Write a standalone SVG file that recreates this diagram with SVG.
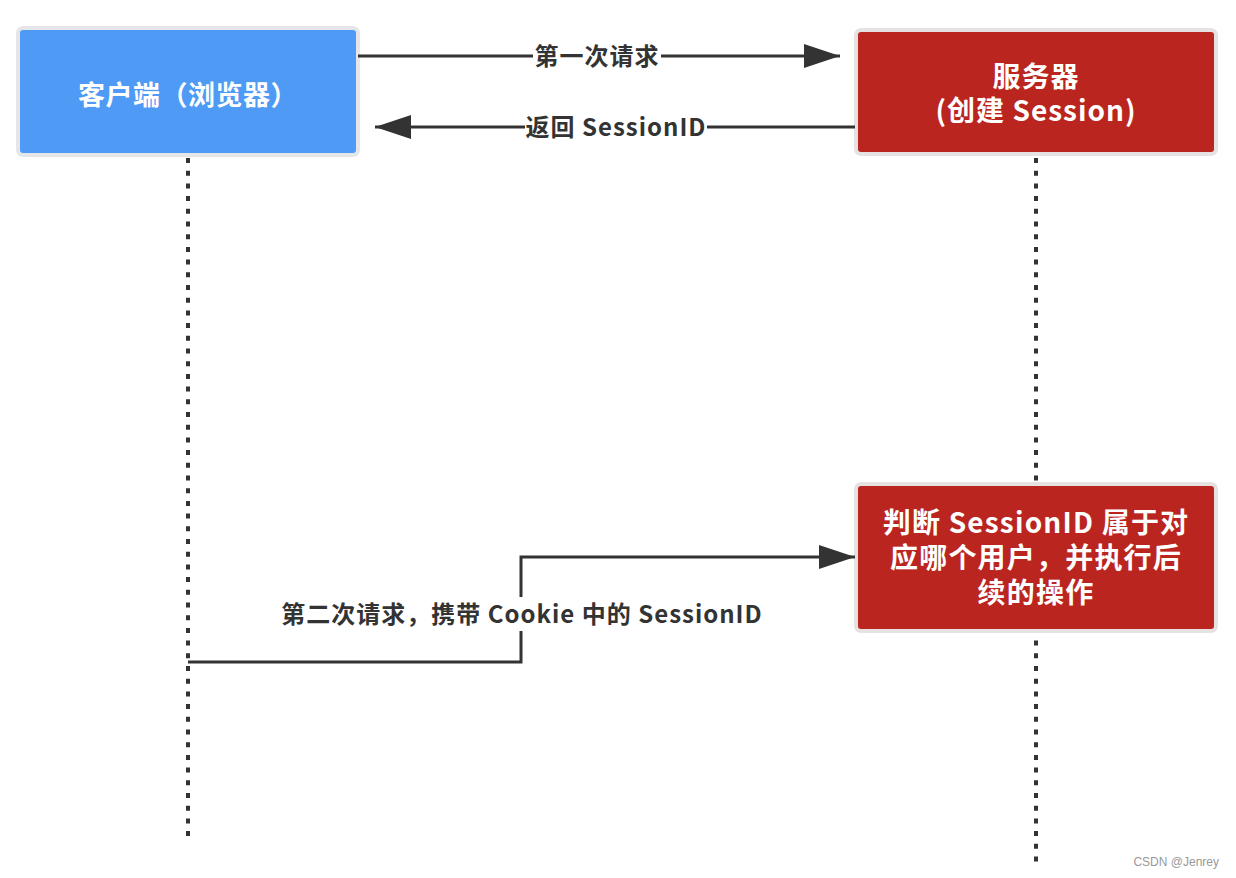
<svg xmlns="http://www.w3.org/2000/svg" width="1236" height="878" viewBox="0 0 1236 878">
<defs>
<style>
.box-blue{fill:#4e9af5;stroke:#e4e6ea;stroke-width:4}
.box-red{fill:#bb2520;stroke:#e6e2e2;stroke-width:4}
.life{stroke:#333;stroke-width:4;stroke-dasharray:5 7.7;fill:none}
.conn{stroke:#333;stroke-width:3;fill:none}
.lbl{font-family:"Noto Sans CJK SC","Noto Sans",sans-serif;font-weight:bold;font-size:24px;letter-spacing:1px;fill:#333;text-anchor:middle}
.wt{font-family:"Noto Sans CJK SC","Noto Sans",sans-serif;font-weight:bold;fill:#fff;text-anchor:middle}
.bg{fill:#fff}
</style>
<marker id="ah" markerWidth="12" markerHeight="8" refX="12" refY="4" orient="auto" markerUnits="strokeWidth">
<path d="M0,0 L12,4 L0,8 Z" fill="#333"/>
</marker>
</defs>
<rect width="1236" height="878" fill="#fff"/>
<g id="lifelines">
<line class="life" x1="188" y1="158" x2="188" y2="842"/>
<line class="life" x1="1036" y1="158" x2="1036" y2="862"/>
</g>
<g id="client">
<rect class="box-blue" x="18" y="28" width="340" height="127" rx="5"/>
<text class="wt" x="188" y="105" font-size="27" letter-spacing="0.5">客户端（浏览器）</text>
</g>
<g id="server">
<rect class="box-red" x="856" y="30" width="360" height="124" rx="5"/>
<text class="wt" x="1036" y="87" font-size="28" letter-spacing="1">服务器</text>
<text class="wt" x="1036" y="121" font-size="28" letter-spacing="1">(创建 Session)</text>
</g>
<g id="decide">
<rect class="box-red" x="856" y="484" width="360" height="147" rx="5"/>
<text class="wt" x="1036" y="533" font-size="28" letter-spacing="1.2">判断 SessionID 属于对</text>
<text class="wt" x="1036" y="568" font-size="28" letter-spacing="1.2">应哪个用户，并执行后</text>
<text class="wt" x="1036" y="603" font-size="28" letter-spacing="1.2">续的操作</text>
</g>
<g id="connectors">
<line class="conn" x1="358" y1="56" x2="840" y2="56" marker-end="url(#ah)"/>
<rect class="bg" x="533" y="42" width="128" height="30"/>
<text class="lbl" x="597" y="65">第一次请求</text>
<line class="conn" x1="855" y1="127" x2="375" y2="127" marker-end="url(#ah)"/>
<rect class="bg" x="525" y="113" width="182" height="30"/>
<text class="lbl" x="616" y="136">返回 SessionID</text>
<path class="conn" d="M188,662 L521,662 L521,557 L855,557" marker-end="url(#ah)"/>
<rect class="bg" x="278" y="597" width="488" height="34"/>
<text class="lbl" x="522" y="623">第二次请求，携带 Cookie 中的 SessionID</text>
</g>
<text x="1219" y="866" font-family="Liberation Sans,Arial,sans-serif" font-size="12" fill="#999" text-anchor="end">CSDN @Jenrey</text>
</svg>
